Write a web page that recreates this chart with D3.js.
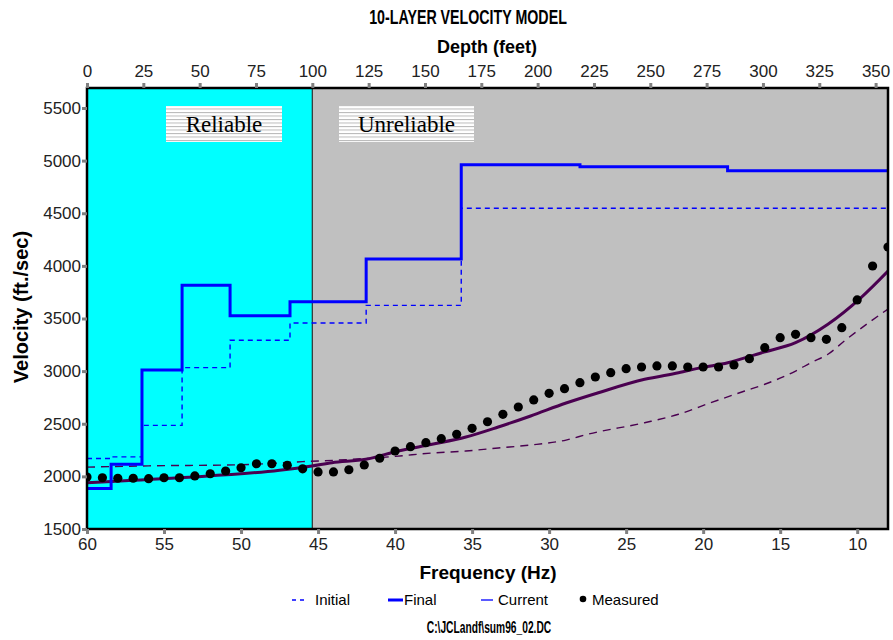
<!DOCTYPE html>
<html>
<head>
<meta charset="utf-8">
<script src="https://cdn.jsdelivr.net/npm/d3@7"></script>
<style>
  html, body { margin: 0; padding: 0; background: #ffffff; }
  svg { display: block; }
</style>
</head>
<body>
<svg id="chart" width="893" height="640"></svg>
<script>
// ---------------- DATA ----------------
const titleText = "10-LAYER VELOCITY MODEL";
const depthTitle = "Depth (feet)";
const freqTitle = "Frequency (Hz)";
const velTitle = "Velocity (ft./sec)";
const fileName = "C:\\JCLandf\\sum96_02.DC";

const depthTicks = [0, 25, 50, 75, 100, 125, 150, 175, 200, 225, 250, 275, 300, 325, 350];
const freqTicks = [60, 55, 50, 45, 40, 35, 30, 25, 20, 15, 10];
const velTicks = [1500, 2000, 2500, 3000, 3500, 4000, 4500, 5000, 5500];

const reliableDepth = 100;

// layer tops (feet)
const layerTops = [0, 10.7, 24.4, 42.2, 63.5, 90.1, 123.9, 166.1, 218.8, 284.3];
// layer velocities (ft/sec)
const finalVel   = [1885, 2115, 3010, 3815, 3525, 3660, 4065, 4960, 4942, 4904];
const initialVel = [2170, 2185, 2485, 3033, 3293, 3457, 3625, 4547, 4547, 4547];

// dispersion curve of the final model
const finalCurveFreq = [60, 54, 47.5, 45.4, 44.1, 41.9, 39.8, 37.6, 35.4, 33.3, 31.2, 28.9, 26.8, 23.8, 21.6, 20.1, 18.4, 16.2, 14.0, 11.9, 9.75, 8.0];
const finalCurveVel  = [1940, 1987, 2058, 2099, 2130, 2162, 2241, 2305, 2374, 2469, 2574, 2697, 2795, 2922, 2985, 3033, 3080, 3175, 3270, 3445, 3698, 3950];

// dispersion curve of the initial model
const initCurveFreq = [60, 56, 50, 46, 43, 40, 37.6, 35.4, 33.3, 31.2, 28.9, 27.5, 23.8, 21.6, 19.5, 17.3, 16.0, 14.0, 13.0, 11.9, 10.8, 8.0];
const initCurveVel  = [2088, 2100, 2110, 2140, 2160, 2190, 2222, 2241, 2270, 2298, 2345, 2400, 2510, 2590, 2700, 2811, 2875, 3001, 3080, 3160, 3290, 3590];

// measured phase velocities, 60 Hz down to 8 Hz in 1 Hz steps
const measuredFreq = [60,59,58,57,56,55,54,53,52,51,50,49,48,47,46,45,44,43,42,41,40,39,38,37,36,35,34,33,32,31,30,29,28,27,26,25,24,23,22,21,20,19,18,17,16,15,14,13,12,11,10,9,8];
const measuredVel  = [1994,1987,1982,1982,1978,1987,1987,2004,2025,2051,2082,2120,2120,2105,2072,2042,2042,2063,2108,2172,2241,2282,2320,2358,2400,2457,2519,2590,2659,2726,2789,2833,2890,2944,2985,3023,3039,3049,3049,3039,3039,3039,3058,3118,3223,3318,3350,3318,3302,3413,3676,3999,4179];

const legendItems = ["Initial", "Final", "Current", "Measured"];

// ---------------- LAYOUT ----------------
const svg = d3.select("#chart");
const L = 87, R = 888, T = 88, B = 529;
const SANS = "'Liberation Sans', Arial, sans-serif";

const xF = d3.scaleLinear().domain([60, 8]).range([L, R]);
const xD = d3.scaleLinear().domain([0, 355.5]).range([L, R]);
const y  = d3.scaleLinear().domain([1500, 5690]).range([B, T]);

const BLUE = "#0000ff";
const PURPLE = "#4a0050";

svg.append("defs").append("clipPath").attr("id", "clip")
  .append("rect").attr("x", L).attr("y", T).attr("width", R - L).attr("height", B - T);

const stripes = svg.select("defs").append("pattern")
  .attr("id", "stripes").attr("patternUnits", "userSpaceOnUse")
  .attr("width", 10).attr("height", 3.5);
stripes.append("rect").attr("width", 10).attr("height", 3.5).attr("fill", "#ffffff");
stripes.append("rect").attr("y", 0).attr("width", 10).attr("height", 1).attr("fill", "#b8b8b8");

// backgrounds
svg.append("rect").attr("x", L).attr("y", T).attr("width", xD(reliableDepth) - L).attr("height", B - T).attr("fill", "#00ffff");
svg.append("rect").attr("x", xD(reliableDepth)).attr("y", T).attr("width", R - xD(reliableDepth)).attr("height", B - T).attr("fill", "#c0c0c0");
svg.append("line").attr("x1", xD(reliableDepth)).attr("x2", xD(reliableDepth)).attr("y1", T).attr("y2", B)
  .attr("stroke", "#303030").attr("stroke-width", 1.2);

// Reliable / Unreliable labels
const boxes = [
  {label: "Reliable", x0: 166, x1: 282},
  {label: "Unreliable", x0: 339, x1: 474}
];
boxes.forEach(b => {
  svg.append("rect").attr("x", b.x0).attr("y", 106).attr("width", b.x1 - b.x0).attr("height", 36)
    .attr("fill", "url(#stripes)");
  svg.append("text").attr("x", (b.x0 + b.x1) / 2).attr("y", 132)
    .attr("text-anchor", "middle").attr("font-family", "'Liberation Serif', 'Times New Roman', serif")
    .attr("font-size", 23).attr("fill", "#000").text(b.label);
});

const plot = svg.append("g").attr("clip-path", "url(#clip)");

// step models
function stepPoints(vels) {
  const pts = layerTops.map((d, i) => [d, vels[i]]);
  pts.push([xD.domain()[1] + 5, vels[vels.length - 1]]);
  return pts;
}
const stepLine = d3.line().x(d => xD(d[0])).y(d => y(d[1])).curve(d3.curveStepAfter);

plot.append("path").attr("d", stepLine(stepPoints(initialVel)))
  .attr("fill", "none").attr("stroke", BLUE).attr("stroke-width", 1.4).attr("stroke-dasharray", "5,4");

// dispersion curves
const curveLine = d3.line().x(d => xF(d[0])).y(d => y(d[1])).curve(d3.curveMonotoneX);
plot.append("path").attr("d", curveLine(initCurveFreq.map((f, i) => [f, initCurveVel[i]])))
  .attr("fill", "none").attr("stroke", PURPLE).attr("stroke-width", 1.4).attr("stroke-dasharray", "8,6");
plot.append("path").attr("d", curveLine(finalCurveFreq.map((f, i) => [f, finalCurveVel[i]])))
  .attr("fill", "none").attr("stroke", PURPLE).attr("stroke-width", 3);

plot.append("path").attr("d", stepLine(stepPoints(finalVel)))
  .attr("fill", "none").attr("stroke", BLUE).attr("stroke-width", 3);

// measured points
plot.selectAll("circle.meas").data(measuredFreq.map((f, i) => [f, measuredVel[i]]))
  .join("circle").attr("class", "meas")
  .attr("cx", d => xF(d[0])).attr("cy", d => y(d[1])).attr("r", 4.6).attr("fill", "#000");

// frame
svg.append("rect").attr("x", L).attr("y", T).attr("width", R - L).attr("height", B - T)
  .attr("fill", "none").attr("stroke", "#000").attr("stroke-width", 2.5);

// axes
function styleAxis(g) {
  g.select(".domain").remove();
  g.selectAll(".tick line").attr("stroke", "#808080").attr("stroke-width", 3);
  g.selectAll(".tick text").attr("font-family", SANS).attr("font-size", 17).attr("fill", "#222");
}
svg.append("g").attr("transform", `translate(0,${T})`)
  .call(d3.axisTop(xD).tickValues(depthTicks).tickSize(5).tickPadding(6).tickFormat(d3.format("d")))
  .call(styleAxis);
svg.append("g").attr("transform", `translate(0,${B})`)
  .call(d3.axisBottom(xF).tickValues(freqTicks).tickSize(5).tickPadding(4).tickFormat(d3.format("d")))
  .call(styleAxis);
svg.append("g").attr("transform", `translate(${L},0)`)
  .call(d3.axisLeft(y).tickValues(velTicks).tickSize(5).tickPadding(1).tickFormat(d3.format("d")))
  .call(styleAxis);

// titles (condensed bold)
function label(x, yy, txt, size, sx, rot) {
  const t = `translate(${x},${yy})` + (rot ? ` rotate(${rot})` : "") + ` scale(${sx},1)`;
  svg.append("text").attr("transform", t).attr("text-anchor", "middle")
    .attr("font-family", SANS).attr("font-weight", "bold").attr("font-size", size).attr("fill", "#000").text(txt);
}
label(468, 24, titleText, 19.5, 0.73);
label(487, 53, depthTitle, 18, 1.0);
label(488, 579, freqTitle, 19, 1.0);
label(28, 307, velTitle, 20, 1.0, -90);
label(489, 633, fileName, 16.5, 0.62);

// legend
const lg = svg.append("g").attr("font-family", SANS).attr("font-size", 15);
const ly = 600;
lg.append("line").attr("x1", 292).attr("x2", 308).attr("y1", ly).attr("y2", ly)
  .attr("stroke", BLUE).attr("stroke-width", 1.3).attr("stroke-dasharray", "4,4");
lg.append("text").attr("x", 315).attr("y", ly + 5).text(legendItems[0]);
lg.append("line").attr("x1", 388).attr("x2", 403).attr("y1", ly).attr("y2", ly)
  .attr("stroke", BLUE).attr("stroke-width", 3);
lg.append("text").attr("x", 404).attr("y", ly + 5).text(legendItems[1]);
lg.append("line").attr("x1", 481).attr("x2", 493).attr("y1", ly).attr("y2", ly)
  .attr("stroke", BLUE).attr("stroke-width", 1.3);
lg.append("text").attr("x", 498).attr("y", ly + 5).text(legendItems[2]);
lg.append("circle").attr("cx", 583).attr("cy", ly - 1).attr("r", 3.3).attr("fill", "#000");
lg.append("text").attr("x", 592).attr("y", ly + 5).text(legendItems[3]);
</script>
</body>
</html>
